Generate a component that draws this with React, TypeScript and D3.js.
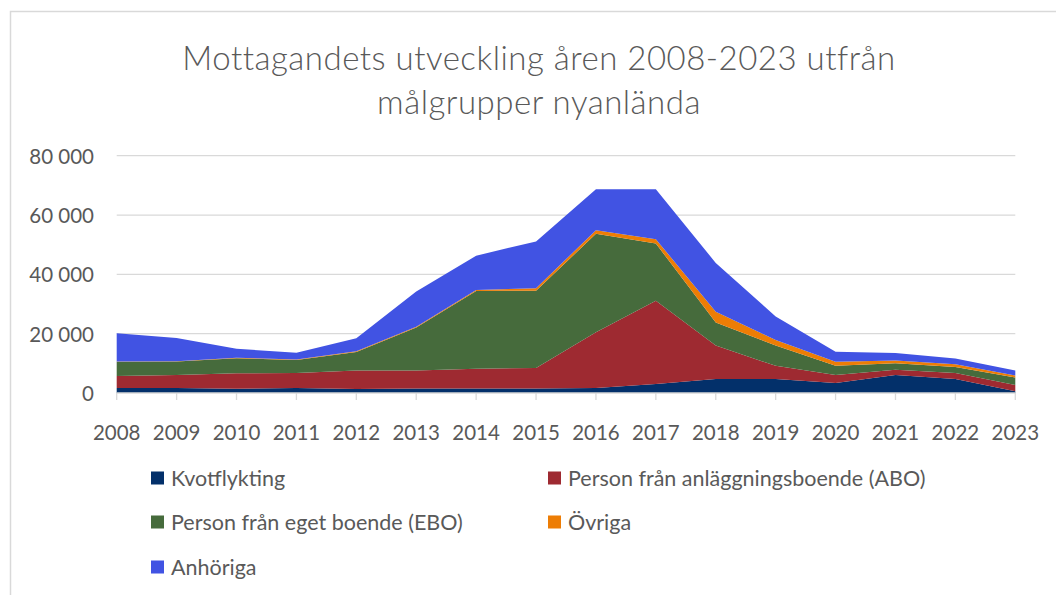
import React from "react";
import * as d3 from "d3";

const years = ["2008","2009","2010","2011","2012","2013","2014","2015","2016","2017","2018","2019","2020","2021","2022","2023"];
const kvotflykting = [1700,1700,1400,1700,1350,1500,1500,1500,1700,3050,4750,4750,3400,6100,4750,600];
const abo = [4050,4400,5250,5050,6200,6050,6700,6950,18800,28050,11250,4400,2700,1700,2000,2100];
const ebo = [4800,4500,5100,4400,6300,14500,26150,26050,33150,19300,7800,6850,3050,2250,2050,2500];
const ovriga = [100,100,150,150,200,250,350,800,1250,1450,3600,1900,1350,900,900,700];
const anhoriga = [9500,7800,3000,2250,4400,11900,11600,15800,13750,16800,16450,7900,3400,2500,1900,1700];
const yTicks = [0,20000,40000,60000,80000];

const seriesNames = ["Kvotflykting","Person från anläggningsboende (ABO)","Person från eget boende (EBO)","Övriga","Anhöriga"];
const seriesColors = ["#03306a","#9e2a31","#466b3c","#ed7d05","#4153e3"];
const seriesValues = [kvotflykting, abo, ebo, ovriga, anhoriga];

const FONT = "Lato, 'Open Sans', sans-serif";
const TXT = "#595959";

export default function App() {
  const W = 1056, H = 595;
  const x0 = 116.7, x1 = 1015.3, yBase = 393, yTop = 155.7;
  const x = d3.scalePoint<string>().domain(years).range([x0, x1]);
  const y = d3.scaleLinear().domain([0, 80000]).range([yBase, yTop]);

  const table = years.map((yr, i) => {
    const row: any = { year: yr };
    seriesNames.forEach((n, k) => { row[n] = seriesValues[k][i]; });
    return row;
  });
  const stacked = d3.stack<any>().keys(seriesNames)(table);
  const area = d3.area<any>()
    .x((d) => x(d.data.year) as number)
    .y0((d) => y(d[0]))
    .y1((d) => y(d[1]))
    .curve(d3.curveLinear);

  const fmt = (v: number) => d3.format(",")(v).replace(/,/g, " ");

  const legendPos = [
    { x: 151, y: 478 },
    { x: 548, y: 478 },
    { x: 151, y: 522 },
    { x: 548, y: 522 },
    { x: 151, y: 567 },
  ];

  return (
    <svg width={W} height={H} style={{ position: "absolute", left: 0, top: 0, background: "#fff" }}>
      <rect x={0} y={0} width={W} height={H} fill="#fff" />
      <path d={`M10.5,${H} V11.5 H${W}`} fill="none" stroke="#d9d9d9" strokeWidth={1.5} />
      <text x={539} y={57} textAnchor="middle" dominantBaseline="central" fontFamily={FONT} fontSize={33} fontWeight={300} letterSpacing={0.5} fill={TXT}>
        Mottagandets utveckling åren 2008-2023 utfrån
      </text>
      <text x={539} y={101} textAnchor="middle" dominantBaseline="central" fontFamily={FONT} fontSize={33} fontWeight={300} letterSpacing={0.5} fill={TXT}>
        målgrupper nyanlända
      </text>
      {yTicks.map((t) => (
        <g key={t}>
          {t > 0 && <line x1={x0} x2={x1} y1={y(t)} y2={y(t)} stroke="#d9d9d9" strokeWidth={1.3} />}
          <text x={94} y={y(t)} textAnchor="end" dominantBaseline="central" fontFamily={FONT} fontSize={20.5} fill={TXT}>
            {fmt(t)}
          </text>
        </g>
      ))}
      {stacked.map((s, k) => (
        <path key={k} d={area(s) as string} fill={seriesColors[k]} />
      ))}
      <line x1={x0} x2={x1} y1={yBase} y2={yBase} stroke="#d9d9d9" strokeWidth={1.3} />
      {years.map((yr) => (
        <g key={yr}>
          <line x1={x(yr)} x2={x(yr)} y1={yBase} y2={yBase + 7} stroke="#d9d9d9" strokeWidth={1.3} />
          <text x={x(yr)} y={432} textAnchor="middle" dominantBaseline="central" fontFamily={FONT} fontSize={20.5} fill={TXT}>
            {yr}
          </text>
        </g>
      ))}
      {seriesNames.map((n, k) => (
        <g key={n}>
          <rect x={legendPos[k].x} y={legendPos[k].y - 6.5} width={13} height={13} fill={seriesColors[k]} />
          <text x={legendPos[k].x + 20} y={legendPos[k].y} dominantBaseline="central" fontFamily={FONT} fontSize={21.5} fill={TXT}>
            {n}
          </text>
        </g>
      ))}
    </svg>
  );
}
